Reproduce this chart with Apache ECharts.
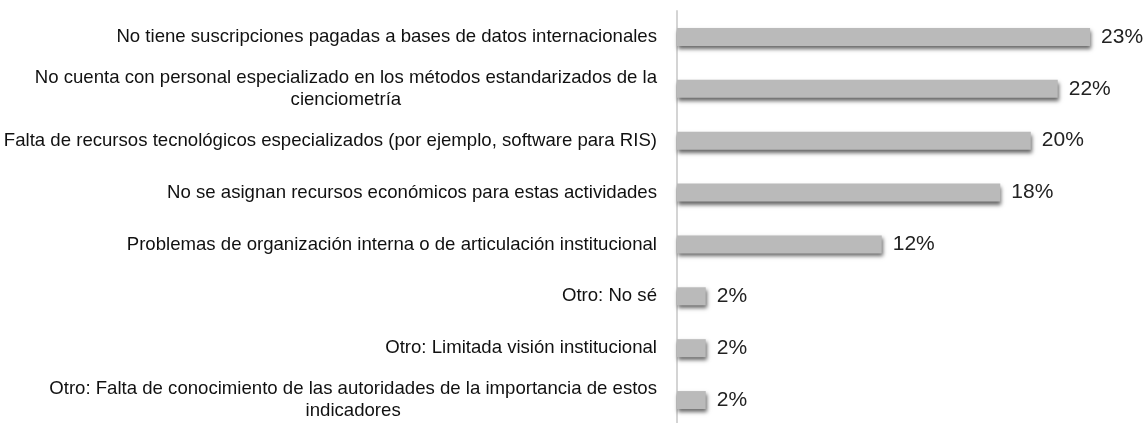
<!DOCTYPE html>
<html>
<head>
<meta charset="utf-8">
<script src="https://cdn.jsdelivr.net/npm/echarts@6/dist/echarts.min.js"></script>
<style>
html,body{margin:0;padding:0;background:#fff;}
#chart{width:1145px;height:423px;}
</style>
</head>
<body>
<div id="chart"></div>
<script>
const categories = [
  "No tiene suscripciones pagadas a bases de datos internacionales",
  "No cuenta con personal especializado en los métodos estandarizados de la\ncienciometría",
  "Falta de recursos tecnológicos especializados (por ejemplo, software para RIS)",
  "No se asignan recursos económicos para estas actividades",
  "Problemas de organización interna o de articulación institucional",
  "Otro: No sé",
  "Otro: Limitada visión institucional",
  "Otro: Falta de conocimiento de las autoridades de la importancia de estos\nindicadores"
];
const values = [23.0, 21.2, 19.7, 18.0, 11.4, 1.6, 1.6, 1.6];
const valueLabels = ["23%", "22%", "20%", "18%", "12%", "2%", "2%", "2%"];

const FONT = "'Liberation Sans Narrow', 'Liberation Sans', Arial, sans-serif";
const chart = echarts.init(document.getElementById('chart'), null, {renderer: 'canvas'});
chart.setOption({
  animation: false,
  backgroundColor: '#ffffff',
  grid: {left: 677, width: 449, top: 11, height: 415, containLabel: false, outerBoundsMode: 'none'},
  xAxis: {
    type: 'value', min: 0, max: 25,
    show: false
  },
  yAxis: {
    type: 'category',
    inverse: true,
    data: categories,
    axisLine: {show: true, lineStyle: {color: '#d4d4d4', width: 2}},
    axisTick: {show: false},
    axisLabel: {
      margin: 20,
      fontFamily: FONT,
      fontSize: 18.6,
      color: '#111111',
      lineHeight: 22,
      formatter: function (v) {
        const parts = v.split('\n');
        if (parts.length === 1) return parts[0];
        return parts[0] + '\n{c|' + parts[1] + '}';
      },
      rich: {
        c: {align: 'center', fontFamily: FONT, fontSize: 18.6, color: '#111111', lineHeight: 22}
      }
    }
  },
  series: [{
    type: 'bar',
    data: values,
    barWidth: 18,
    itemStyle: {
      color: '#bababa',
      shadowColor: 'rgba(0,0,0,0.6)',
      shadowBlur: 4,
      shadowOffsetX: 1,
      shadowOffsetY: 3
    },
    label: {
      show: true,
      position: 'right',
      distance: 11,
      fontFamily: FONT,
      fontSize: 21,
      color: '#222222',
      formatter: function (p) { return valueLabels[p.dataIndex]; }
    }
  }]
});
</script>
</body>
</html>
